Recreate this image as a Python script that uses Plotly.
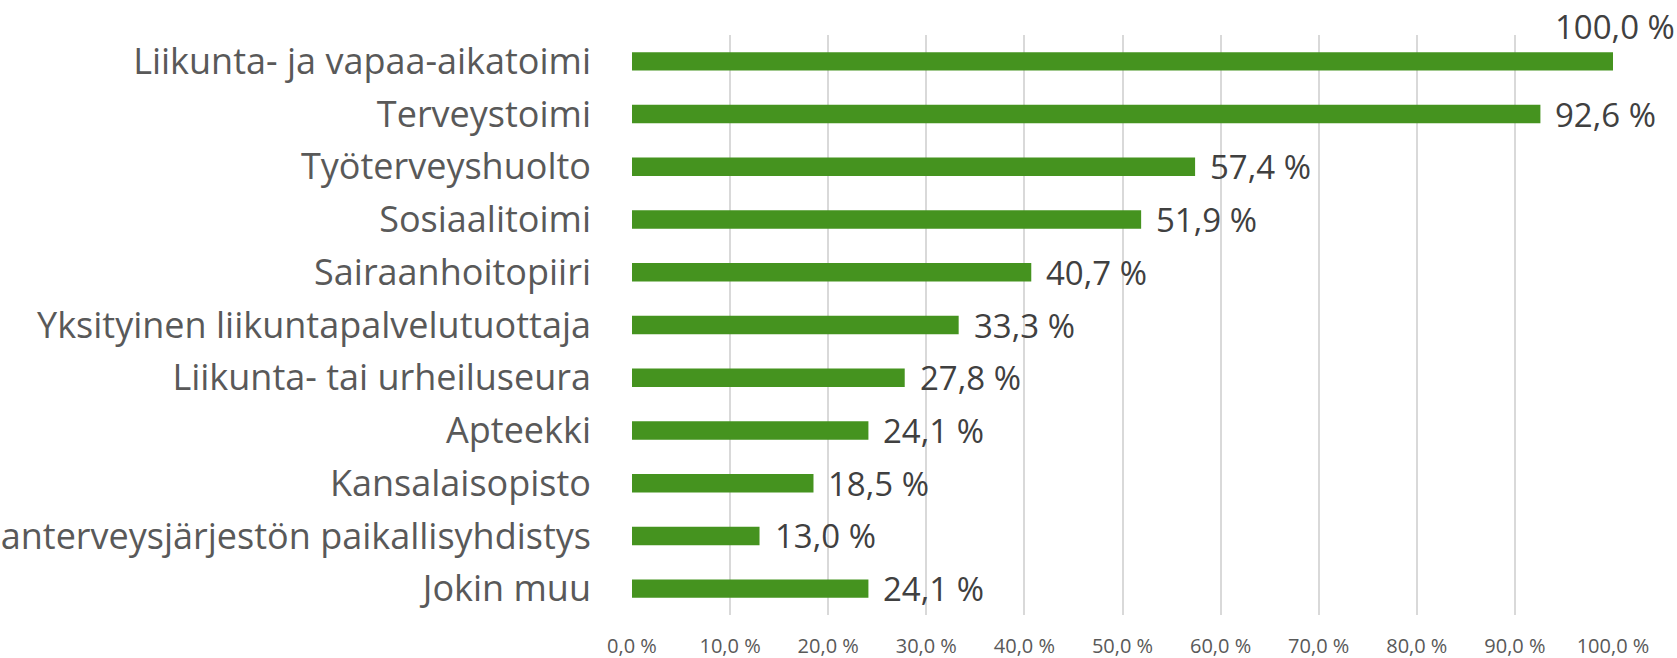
import plotly.graph_objects as go

categories = [
    "Liikunta- ja vapaa-aikatoimi",
    "Terveystoimi",
    "Työterveyshuolto",
    "Sosiaalitoimi",
    "Sairaanhoitopiiri",
    "Yksityinen liikuntapalvelutuottaja",
    "Liikunta- tai urheiluseura",
    "Apteekki",
    "Kansalaisopisto",
    "Kansanterveysjärjestön paikallisyhdistys",
    "Jokin muu",
]
values = [100.0, 92.6, 57.4, 51.9, 40.7, 33.3, 27.8, 24.1, 18.5, 13.0, 24.1]
tick_vals = [0, 10, 20, 30, 40, 50, 60, 70, 80, 90, 100]
tick_text = ["0,0 %", "10,0 %", "20,0 %", "30,0 %", "40,0 %", "50,0 %",
             "60,0 %", "70,0 %", "80,0 %", "90,0 %", "100,0 %"]

FONT = "Open Sans"
BAR = "#45931f"

fig = go.Figure(go.Bar(
    x=values, y=categories, orientation="h",
    marker=dict(color=BAR, line=dict(width=0)),
    hoverinfo="skip",
))

def fmt(v):
    return f"{v:.1f}".replace(".", ",") + " %"

for c, v in zip(categories, values):
    if v >= 99.95:
        fig.add_annotation(x=v, y=c, text=fmt(v), showarrow=False,
                           xanchor="center", yanchor="middle", yshift=35, xshift=2,
                           font=dict(family=FONT, size=33, color="#404040"))
    else:
        fig.add_annotation(x=v, y=c, text=fmt(v), showarrow=False,
                           xanchor="left", yanchor="middle", xshift=13, yshift=0,
                           font=dict(family=FONT, size=33, color="#404040"))

fig.update_layout(
    width=1677, height=658,
    margin=dict(l=632, r=64, t=35, b=43, autoexpand=False),
    paper_bgcolor="white", plot_bgcolor="white",
    bargap=0.65, showlegend=False,
    font=dict(family=FONT),
)
fig.update_xaxes(
    range=[0, 100], tickvals=tick_vals, ticktext=tick_text,
    showgrid=True, gridcolor="#d9d9d9", gridwidth=1.5,
    zeroline=False, showline=False, ticks="",
    tickfont=dict(family=FONT, size=20, color="#595959"),
    ticklabelstandoff=17, fixedrange=True,
)
fig.update_yaxes(
    autorange="reversed", showgrid=False, zeroline=False, showline=False,
    ticks="", tickfont=dict(family=FONT, size=36, color="#595959"),
    ticklabelstandoff=40, automargin=False, fixedrange=True,
)
fig.write_html("out.html", config={"displayModeBar": False},
               post_script="document.body.style.margin='0';document.body.style.overflow='hidden';")
